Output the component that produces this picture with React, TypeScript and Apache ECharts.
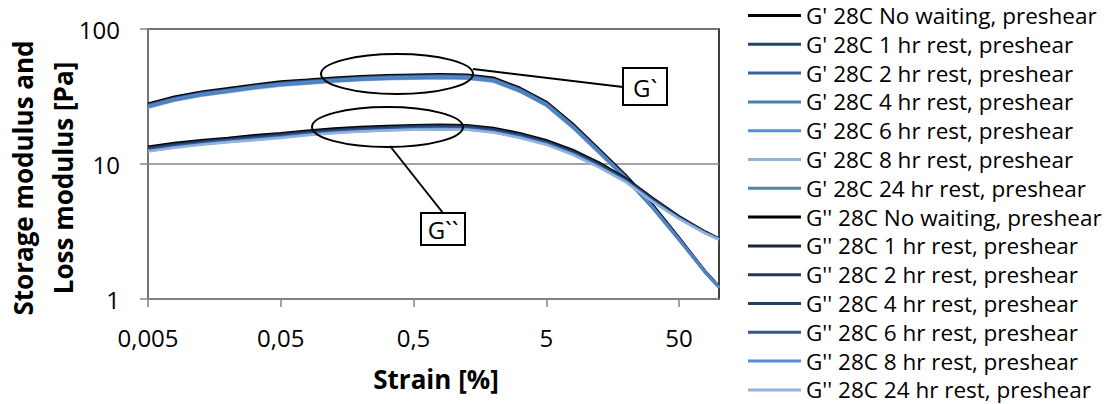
import React, { useEffect, useRef } from "react";
import * as echarts from "echarts";

// Strain [%]
const STRAIN = [0.005, 0.0079, 0.0126, 0.02, 0.0316, 0.05, 0.079, 0.126, 0.2, 0.316, 0.5, 0.79, 1.26, 2, 3.16, 5, 7.9, 12.6, 20, 31.6, 50, 79, 100];

// X tick positions and labels
const X_TICKS = [0.005, 0.05, 0.5, 5, 50];
const X_TICK_LABELS = ["0,005", "0,05", "0,5", "5", "50"];

// G' (storage modulus) [Pa]
const GP_NO_WAIT = [28.0, 31.5, 34.3, 36.4, 38.7, 40.8, 42.1, 43.6, 44.7, 45.4, 45.9, 46.3, 45.9, 43.6, 36.7, 28.9, 19.9, 12.8, 8.2, 5.0, 2.85, 1.6, 1.24];
const GP_1H = [27.4, 30.9, 33.7, 35.7, 37.9, 40.0, 41.3, 42.7, 43.9, 44.6, 45.0, 45.4, 45.0, 42.7, 36.0, 28.4, 19.5, 12.5, 8.0, 4.9, 2.8, 1.59, 1.23];
const GP_2H = [27.2, 30.6, 33.3, 35.4, 37.6, 39.6, 40.9, 42.3, 43.4, 44.1, 44.5, 44.9, 44.5, 42.3, 35.7, 28.1, 19.3, 12.4, 8.0, 4.85, 2.79, 1.58, 1.23];
const GP_4H = [26.9, 30.3, 33.0, 35.0, 37.2, 39.2, 40.5, 41.9, 43.0, 43.7, 44.1, 44.5, 44.1, 41.9, 35.3, 27.8, 19.1, 12.3, 7.9, 4.8, 2.78, 1.58, 1.23];
const GP_6H = [26.6, 30.0, 32.7, 34.7, 36.8, 38.8, 40.1, 41.5, 42.6, 43.3, 43.7, 44.1, 43.7, 41.5, 34.9, 27.5, 18.9, 12.2, 7.8, 4.75, 2.76, 1.57, 1.22];
const GP_8H = [26.1, 29.4, 32.0, 34.0, 36.1, 38.0, 39.3, 40.6, 41.7, 42.4, 42.8, 43.2, 42.8, 40.6, 34.2, 27.0, 18.5, 11.9, 7.7, 4.7, 2.72, 1.55, 1.21];
const GP_24H = [26.4, 29.7, 32.3, 34.3, 36.5, 38.4, 39.7, 41.1, 42.1, 42.8, 43.2, 43.6, 43.2, 41.1, 34.6, 27.2, 18.7, 12.1, 7.7, 4.7, 2.74, 1.56, 1.22];

// G'' (loss modulus) [Pa]
const GPP_NO_WAIT = [13.4, 14.3, 15.0, 15.6, 16.3, 16.9, 17.6, 18.3, 18.8, 19.1, 19.4, 19.5, 19.4, 18.5, 16.9, 15.0, 12.7, 10.2, 7.8, 5.6, 4.1, 3.15, 2.8];
const GPP_1H = [13.2, 14.0, 14.7, 15.3, 16.0, 16.6, 17.3, 17.9, 18.4, 18.7, 19.1, 19.2, 19.1, 18.1, 16.6, 14.7, 12.5, 10.0, 7.7, 5.5, 4.05, 3.12, 2.79];
const GPP_2H = [13.1, 13.9, 14.6, 15.2, 15.8, 16.4, 17.1, 17.7, 18.3, 18.6, 18.9, 19.0, 18.9, 18.0, 16.4, 14.6, 12.3, 9.9, 7.6, 5.45, 4.03, 3.11, 2.79];
const GPP_4H = [12.9, 13.7, 14.4, 15.0, 15.7, 16.3, 17.0, 17.6, 18.1, 18.4, 18.7, 18.8, 18.7, 17.8, 16.3, 14.4, 12.2, 9.8, 7.55, 5.42, 4.01, 3.1, 2.78];
const GPP_6H = [12.8, 13.6, 14.3, 14.9, 15.5, 16.1, 16.8, 17.4, 17.9, 18.2, 18.5, 18.6, 18.5, 17.6, 16.1, 14.3, 12.1, 9.7, 7.5, 5.4, 4.0, 3.1, 2.78];
const GPP_8H = [12.5, 13.3, 14.0, 14.6, 15.2, 15.8, 16.5, 17.1, 17.5, 17.8, 18.1, 18.2, 18.1, 17.2, 15.8, 14.0, 11.9, 9.5, 7.4, 5.3, 3.95, 3.07, 2.76];
const GPP_24H = [12.4, 13.2, 13.9, 14.5, 15.0, 15.6, 16.3, 16.9, 17.4, 17.7, 17.9, 18.0, 17.9, 17.1, 15.6, 13.9, 11.7, 9.4, 7.3, 5.25, 3.92, 3.05, 2.75];

const SERIES_NAMES = [
  "G' 28C No waiting, preshear",
  "G' 28C 1 hr rest, preshear",
  "G' 28C 2 hr rest, preshear",
  "G' 28C 4 hr rest, preshear",
  "G' 28C 6 hr rest, preshear",
  "G' 28C 8 hr rest, preshear",
  "G' 28C 24 hr rest, preshear",
  "G'' 28C No waiting, preshear",
  "G'' 28C 1 hr rest, preshear",
  "G'' 28C 2 hr rest, preshear",
  "G'' 28C 4 hr rest, preshear",
  "G'' 28C 6 hr rest, preshear",
  "G'' 28C 8 hr rest, preshear",
  "G'' 28C 24 hr rest, preshear",
];
const SERIES_VALUES = [GP_NO_WAIT, GP_1H, GP_2H, GP_4H, GP_6H, GP_8H, GP_24H, GPP_NO_WAIT, GPP_1H, GPP_2H, GPP_4H, GPP_6H, GPP_8H, GPP_24H];
const SERIES_COLORS = [
  "#000000", "#24406b", "#365f9c", "#4a7ebb", "#558ed5", "#95b3d7", "#4f81bd",
  "#000000", "#17253d", "#1f3a60", "#243f66", "#2f5597", "#558ed5", "#95b3d7",
];

const FONT = "'Open Sans', 'Liberation Sans', sans-serif";
const GRAY = "#868686";

export default function App() {
  const ref = useRef<HTMLDivElement>(null);

  useEffect(() => {
    if (!ref.current) return;
    const chart = echarts.init(ref.current, undefined, { renderer: "svg" });
    const tickVals = X_TICKS.map((t) => Math.log10(t));

    const series = SERIES_NAMES.map((name, si) => ({
      name,
      type: "line",
      symbol: "none",
      showSymbol: false,
      data: STRAIN.map((s, i) => [Math.log10(s), SERIES_VALUES[si][i]]),
      lineStyle: { color: SERIES_COLORS[si], width: 2.5 },
      itemStyle: { color: SERIES_COLORS[si] },
      emphasis: { disabled: true },
    }));

    chart.setOption({
      animation: false,
      textStyle: { fontFamily: FONT },
      grid: {
        left: 148,
        right: 397,
        top: 29,
        bottom: 105,
        show: true,
        borderColor: "#000",
        borderWidth: 1.5,
        backgroundColor: "transparent",
      },
      xAxis: {
        type: "value",
        min: Math.log10(0.005),
        max: 2,
        axisLine: { show: true, onZero: false, lineStyle: { color: GRAY, width: 1.5 } },
        axisTick: { show: true, length: 8, customValues: tickVals, lineStyle: { color: GRAY, width: 1.5 } },
        axisLabel: {
          customValues: tickVals,
          margin: 26,
          fontSize: 24,
          lineHeight: 24,
          color: "#000",
          fontFamily: FONT,
          formatter: (v: number) => {
            const i = tickVals.findIndex((t) => Math.abs(t - v) < 1e-6);
            return i >= 0 ? X_TICK_LABELS[i] : "";
          },
        },
        splitLine: { show: false },
      },
      yAxis: {
        type: "log",
        logBase: 10,
        min: 1,
        max: 100,
        axisLine: { show: true, onZero: false, lineStyle: { color: GRAY, width: 1.5 } },
        axisTick: { show: true, length: 8, lineStyle: { color: GRAY, width: 1.5 } },
        axisLabel: { margin: 28, fontSize: 24, color: "#000", fontFamily: FONT },
        splitLine: { show: true, lineStyle: { color: GRAY, width: 1.5 } },
      },
      legend: {
        orient: "vertical",
        left: 748,
        top: 4,
        height: 600,
        itemWidth: 53,
        itemHeight: 3,
        itemGap: 5.8,
        icon: "rect",
        padding: 0,
        textStyle: { fontSize: 22.5, lineHeight: 22.5, color: "#000", fontFamily: FONT },
        data: SERIES_NAMES,
      },
      graphic: [
        {
          type: "text",
          x: 43,
          y: 178,
          rotation: Math.PI / 2,
          style: {
            text: "Storage modulus and\nLoss modulus [Pa]",
            font: `bold 26px ${FONT}`,
            fill: "#000",
            align: "center",
            verticalAlign: "middle",
            lineHeight: 40,
          },
        },
        {
          type: "text",
          x: 436,
          y: 379,
          style: {
            text: "Strain [%]",
            font: `bold 26px ${FONT}`,
            fill: "#000",
            align: "center",
            verticalAlign: "middle",
          },
        },
        { type: "ellipse", z: 100, shape: { cx: 397, cy: 74, rx: 76, ry: 20 }, style: { fill: "none", stroke: "#000", lineWidth: 2 } },
        { type: "ellipse", z: 100, shape: { cx: 387.5, cy: 127, rx: 75.5, ry: 20 }, style: { fill: "none", stroke: "#000", lineWidth: 2 } },
        { type: "line", z: 100, shape: { x1: 473, y1: 69, x2: 623, y2: 87 }, style: { stroke: "#000", lineWidth: 2 } },
        { type: "line", z: 100, shape: { x1: 390, y1: 146, x2: 443, y2: 213 }, style: { stroke: "#000", lineWidth: 2 } },
        { type: "rect", z: 100, shape: { x: 623, y: 68, width: 44, height: 37 }, style: { fill: "#fff", stroke: "#000", lineWidth: 2 } },
        { type: "text", z: 101, x: 645, y: 87, style: { text: "G`", font: `24px ${FONT}`, fill: "#000", align: "center", verticalAlign: "middle" } },
        { type: "rect", z: 100, shape: { x: 421, y: 213, width: 44, height: 32 }, style: { fill: "#fff", stroke: "#000", lineWidth: 2 } },
        { type: "text", z: 101, x: 443, y: 229, style: { text: "G``", font: `24px ${FONT}`, fill: "#000", align: "center", verticalAlign: "middle" } },
      ],
      series,
    });

    return () => chart.dispose();
  }, []);

  return (
    <div
      ref={ref}
      style={{ position: "absolute", left: 0, top: 0, width: 1116, height: 404, background: "#fff" }}
    />
  );
}
